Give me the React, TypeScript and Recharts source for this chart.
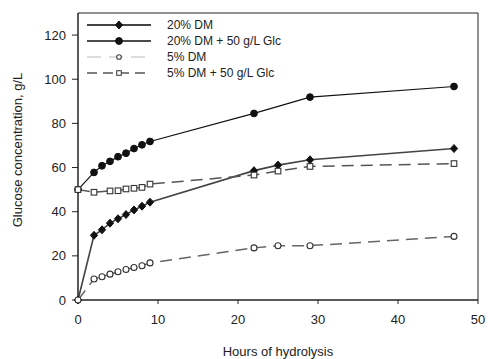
import { LineChart, Line, XAxis, YAxis, Label, ReferenceArea } from "recharts"

// hours of hydrolysis
const hours = [0, 2, 3, 4, 5, 6, 7, 8, 9, 22, 25, 29, 47]
// glucose, g/L
const dm20 = [0, 29.3, 31.8, 34.8, 36.8, 38.7, 40.8, 42.5, 44.3, 58.6, 61.1, 63.5, 68.6]
const dm20Glc = [50, 57.8, 60.8, 62.8, 64.9, 66.5, 68.6, 70.3, 71.8, 84.5, null, 91.9, 96.7]
const dm5 = [0, 9.5, 10.5, 11.7, 12.8, 13.8, 14.7, 15.5, 16.8, 23.6, 24.6, 24.6, 28.8]
const dm5Glc = [50, 48.8, null, 49.4, 49.5, 50.3, 50.6, 51, 52.5, 56.6, 58.4, 60.5, 61.8]

const xTicks = [0, 10, 20, 30, 40, 50]
const yTicks = [0, 20, 40, 60, 80, 100, 120]

const seriesNames = ["20% DM", "20% DM + 50 g/L Glc", "5% DM", "5% DM + 50 g/L Glc"]

const data = hours.map((h, i) => ({
  h,
  dm20: dm20[i],
  dm20Glc: dm20Glc[i],
  dm5: dm5[i],
  dm5Glc: dm5Glc[i],
}))

const font = "'Liberation Sans', Arial, sans-serif"
const ink = "#222"

const Diamond = ({ cx, cy }: any) => {
  if (cx == null || cy == null) return null
  return <polygon points={`${cx},${cy - 4} ${cx + 3.6},${cy} ${cx},${cy + 4} ${cx - 3.6},${cy}`} fill="#111" stroke="#111" />
}
const FilledCircle = ({ cx, cy }: any) => {
  if (cx == null || cy == null) return null
  return <circle cx={cx} cy={cy} r={3.4} fill="#111" stroke="#111" />
}
const OpenCircle = ({ cx, cy }: any) => {
  if (cx == null || cy == null) return null
  return <circle cx={cx} cy={cy} r={3} fill="#fff" stroke="#333" strokeWidth={1.1} />
}
const OpenSquare = ({ cx, cy }: any) => {
  if (cx == null || cy == null) return null
  return <rect x={cx - 2.8} y={cy - 2.8} width={5.6} height={5.6} fill="#fff" stroke="#333" strokeWidth={1.1} />
}

const legendRows = [
  { stroke: "#444", w: 2, dash: undefined, mark: (x: number, y: number) => <Diamond cx={x} cy={y} /> },
  { stroke: "#111", w: 1.3, dash: undefined, mark: (x: number, y: number) => <FilledCircle cx={x} cy={y} /> },
  { stroke: "#bbb", w: 1, dash: "14 8", mark: (x: number, y: number) => <circle cx={x} cy={y} r={2.3} fill="#fff" stroke="#444" strokeWidth={1.1} /> },
  { stroke: "#555", w: 1.3, dash: "10 6", mark: (x: number, y: number) => <rect x={x - 2.3} y={y - 2.3} width={4.6} height={4.6} fill="#fff" stroke="#444" strokeWidth={1.1} /> },
]

// legend overlay, placed inside the plot frame
const Overlay = () => (
  <svg width={488} height={359} style={{ position: "absolute", left: 0, top: 0, zIndex: 5, pointerEvents: "none" }}>
    {legendRows.map((r, i) => {
      const y = 25 + i * 16
      return (
        <g key={i}>
          <line x1={87} x2={151} y1={y} y2={y} stroke={r.stroke} strokeWidth={r.w} strokeDasharray={r.dash} />
          {r.mark(119, y)}
          <text x={167} y={y + 4} fontSize={12} fontFamily={font} fill={ink}>
            {seriesNames[i]}
          </text>
        </g>
      )
    })}
  </svg>
)

export default function App() {
  return (
    <div style={{ position: "absolute", left: 0, top: 0, width: 488, height: 359, background: "#fff" }}>
      <LineChart width={488} height={359} data={data} margin={{ top: 13, right: 10, left: 0, bottom: 0 }}>
        <ReferenceArea x1={0} x2={50} y1={0} y2={130} fill="none" stroke="#222" strokeWidth={1} ifOverflow="visible" />
        <XAxis
          dataKey="h"
          type="number"
          domain={[0, 50]}
          ticks={xTicks}
          height={59}
          tickSize={4}
          tickMargin={11}
          stroke="#222"
          tick={{ fontSize: 13, fontFamily: font, fill: ink }}
        >
          <Label
            content={() => (
              <text x={278} y={356} textAnchor="middle" fontSize={13} fontFamily={font} fill={ink}>
                Hours of hydrolysis
              </text>
            )}
          />
        </XAxis>
        <YAxis
          type="number"
          domain={[0, 130]}
          ticks={yTicks}
          width={78}
          tickSize={6}
          tickMargin={6}
          stroke="#222"
          tick={{ fontSize: 13, fontFamily: font, fill: ink }}
        >
          <Label
            content={() => (
              <text
                x={22}
                y={150}
                transform="rotate(-90 22 150)"
                textAnchor="middle"
                fontSize={13}
                fontFamily={font}
                fill={ink}
              >
                Glucose concentration, g/L
              </text>
            )}
          />
        </YAxis>
        <Line
          dataKey="dm20"
          name={seriesNames[0]}
          stroke="#444"
          strokeWidth={1.6}
          dot={<Diamond />}
          connectNulls
          isAnimationActive={false}
        />
        <Line
          dataKey="dm20Glc"
          name={seriesNames[1]}
          stroke="#111"
          strokeWidth={1.2}
          dot={<FilledCircle />}
          connectNulls
          isAnimationActive={false}
        />
        <Line
          dataKey="dm5"
          name={seriesNames[2]}
          stroke="#666"
          strokeWidth={1.5}
          strokeDasharray="12 7"
          dot={<OpenCircle />}
          connectNulls
          isAnimationActive={false}
        />
        <Line
          dataKey="dm5Glc"
          name={seriesNames[3]}
          stroke="#555"
          strokeWidth={1.5}
          strokeDasharray="12 7"
          dot={<OpenSquare />}
          connectNulls
          isAnimationActive={false}
        />
      </LineChart>
      <Overlay />
    </div>
  )
}
